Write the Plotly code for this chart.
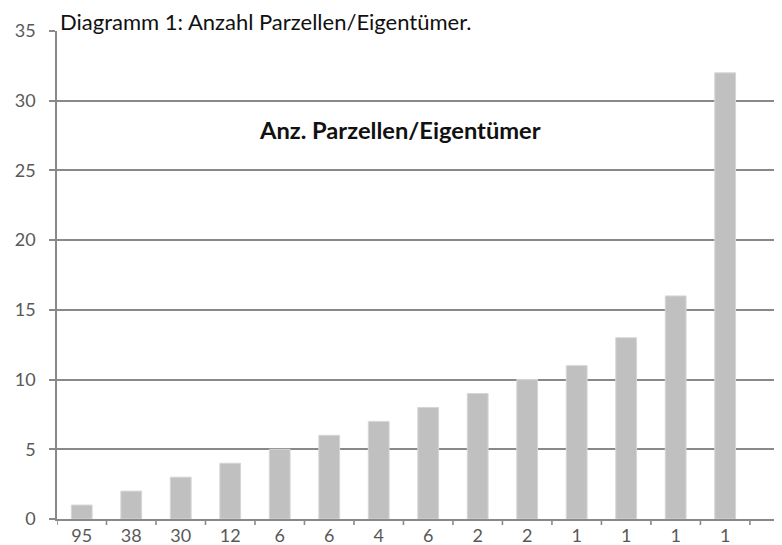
import plotly.graph_objects as go

tick_labels = ["95", "38", "30", "12", "6", "6", "4", "6", "2", "2", "1", "1", "1", "1"]
values = [1, 2, 3, 4, 5, 6, 7, 8, 9, 10, 11, 13, 16, 32]
positions = list(range(len(values)))

FONT = "Lato, Open Sans, sans-serif"
PLOT_H = 545 - 23 - 34

fig = go.Figure()
fig.add_trace(go.Bar(
    x=positions, y=values, width=0.42,
    marker=dict(color="#C0C0C0", line=dict(color="#D6D6D6", width=1)),
    showlegend=False, hoverinfo="skip"
))

fig.update_layout(
    width=782, height=545,
    margin=dict(l=49, r=0, t=23, b=34),
    paper_bgcolor="white", plot_bgcolor="white",
    font=dict(family=FONT, size=18, color="#595959"),
    xaxis=dict(
        range=[-0.5, 14.31],
        tickmode="array", tickvals=positions, ticktext=tick_labels,
        showgrid=False, zeroline=False,
        showline=True, linecolor="#898989", linewidth=1.6,
        ticks="", ticklabelstandoff=0,
        tickfont=dict(size=18, color="#595959"),
    ),
    yaxis=dict(
        range=[0, 35], tickmode="linear", dtick=5, tick0=0,
        showgrid=True, gridcolor="#898989", gridwidth=1.6,
        zeroline=False,
        showline=True, linecolor="#898989", linewidth=1.6,
        ticks="outside", ticklen=6, tickcolor="#898989", tickwidth=1.6,
        ticklabelstandoff=10,
        tickfont=dict(size=18, color="#595959"),
    ),
    annotations=[
        dict(text="Diagramm 1: Anzahl Parzellen/Eigentümer.", xref="paper", yref="paper",
             x=0.0, y=(511 - 13.5) / PLOT_H, xanchor="left", yanchor="middle", xshift=1,
             showarrow=False, font=dict(family=FONT, size=22, color="#111111")),
        dict(text="<b>Anz. Parzellen/Eigentümer</b>", xref="x", yref="y",
             x=6.43, y=27.9, xanchor="center", yanchor="middle", showarrow=False,
             font=dict(family=FONT, size=23.7, color="#111111")),
    ],
)

# x-axis category boundary tick marks (between categories)
boundaries = [i - 0.5 for i in range(len(values) + 1)]
for b in boundaries:
    fig.add_shape(type="line", xref="x", yref="paper", x0=b, x1=b, y0=0, y1=-6 / PLOT_H,
                  line=dict(color="#898989", width=1.6))

fig.write_html("out.html")
